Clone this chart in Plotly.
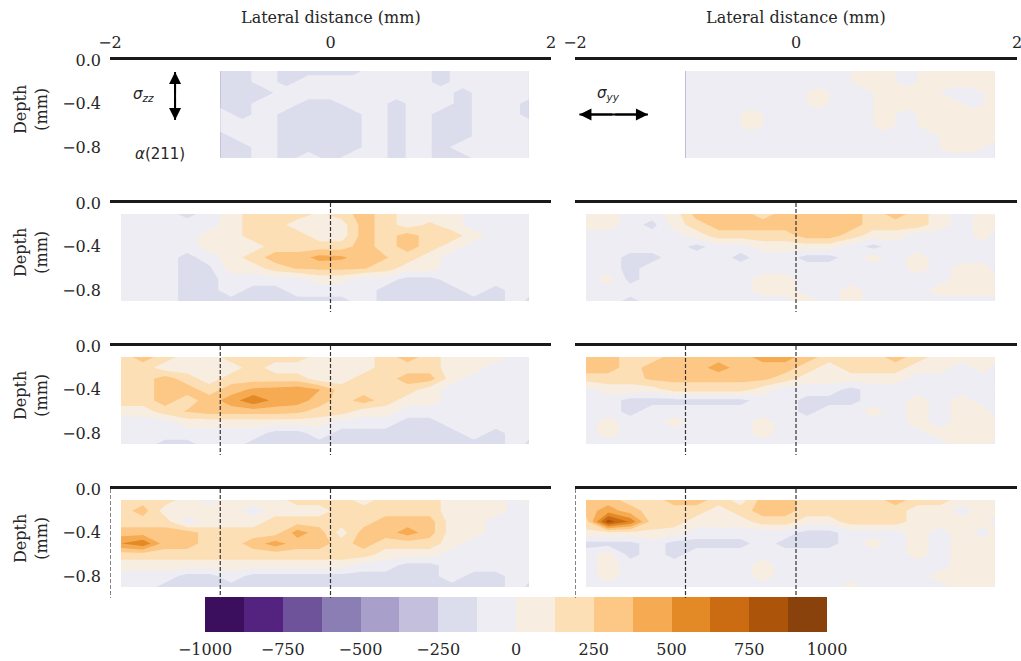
import plotly.graph_objects as go

# ---------------- data ----------------
depth = [-0.1, -0.2, -0.3, -0.4, -0.5, -0.6, -0.7, -0.8, -0.9]
x_top = [-1.0, -0.8, -0.6, -0.4, -0.2, 0.0, 0.2, 0.4, 0.6, 0.8, 1.0, 1.2, 1.4, 1.6, 1.8]
x_full = [-1.9, -1.7, -1.5, -1.3, -1.1, -0.9, -0.7, -0.5, -0.3, -0.1,
          0.1, 0.3, 0.5, 0.7, 0.9, 1.1, 1.3, 1.5, 1.7, 1.8]

szz_1 = [
    [-170, -170, -60, -170, -170, -170, -170, -60, -60, -60, -170, -60, -60, -60, -60],
    [-170, -170, -60, -170, -60, -60, -60, -60, -60, -60, -170, -60, -60, -60, -60],
    [-170, -170, -170, -60, -60, -60, -60, -60, -60, -60, -60, -170, -60, -60, -60],
    [-170, -170, -60, -60, -170, -170, -60, -60, -170, -60, -60, -170, -60, -60, -170],
    [-60, -170, -60, -170, -170, -170, -170, -60, -170, -60, -170, -170, -60, -60, -170],
    [-60, -60, -60, -170, -170, -170, -170, -60, -170, -60, -170, -170, -60, -60, -60],
    [-170, -60, -60, -170, -170, -170, -170, -60, -170, -60, -170, -170, -60, -60, -60],
    [-170, -170, -60, -170, -170, -170, -170, -60, -170, -60, -170, -60, -60, -60, -60],
    [-170, -170, -60, -170, -60, -170, -60, -60, -170, -60, -170, -170, -60, -60, -60],
]
syy_1 = [
    [-60, -60, -60, -60, -60, -60, -60, -60, 60, 60, -60, 60, 60, 60, 60],
    [-60, -60, -60, -60, -60, -60, -60, -60, 60, 60, -60, 60, 60, 60, 60],
    [-60, -60, -60, -60, -60, -60, 60, -60, -60, 60, 60, 60, -60, -60, 60],
    [-60, -60, -60, -60, -60, -60, 60, -60, -60, 60, 60, 60, 60, -60, 60],
    [-60, -60, -60, 60, -60, -60, -60, -60, -60, 60, -60, 60, 60, 60, 60],
    [-60, -60, -60, 60, -60, -60, -60, -60, -60, 60, -60, 60, 60, 60, 60],
    [-60, -60, -60, -60, -60, -60, -60, -60, -60, -60, -60, -60, 60, 60, 60],
    [-60, -60, -60, -60, -60, -60, -60, -60, -60, -60, -60, -60, 60, 60, -60],
    [-60, -60, -60, -60, -60, -60, -60, -60, -60, -60, -60, -60, -60, -60, -60],
]
szz_2 = [
    [-60, -60, -60, -170, -60, 60, 190, 190, 190, 100, 190, 310, 190, 60, 60, 60, -60, -60, -60, -60],
    [-60, -60, -60, -60, -60, 60, 190, 190, 60, 60, 60, 310, 190, 60, 150, 60, -60, -60, -60, -60],
    [-60, -60, -60, -60, 60, 60, 190, 190, 190, 60, 60, 310, 190, 310, 190, 190, 60, -60, -60, -60],
    [-60, -60, -60, -60, 60, 60, 60, 190, 190, 190, 190, 310, 190, 310, 190, 60, -60, -60, -60, -60],
    [-60, -60, -60, -170, -60, 60, 190, 310, 310, 420, 400, 310, 260, 190, 60, -60, -60, -60, -60, -60],
    [-60, -60, -60, -170, -150, 60, 60, 190, 260, 280, 280, 260, 190, 60, 60, -60, -60, -60, -60, -60],
    [-60, -60, -60, -170, -170, -60, -60, -60, -60, 40, 40, -60, -60, -170, -170, -60, -60, -60, -60, -60],
    [-60, -60, -60, -170, -170, -60, -170, -170, -60, -60, -60, -60, -170, -170, -170, -170, -60, -170, -60, -60],
    [-60, -60, -60, -170, -170, -170, -170, -170, -170, -170, -170, -60, -170, -170, -170, -170, -170, -170, -60, -170],
]
syy_2 = [
    [60, 60, -60, -60, 60, 310, 310, 310, 190, 310, 310, 310, 310, 190, 310, 190, 60, -60, 60, 60],
    [60, 60, -60, -170, 60, 190, 310, 310, 310, 310, 310, 310, 310, 190, 190, 190, 60, -60, 60, 60],
    [-60, -60, -60, -60, -60, 60, 190, 190, 190, 190, 310, 310, 190, 60, 60, -60, -60, -60, 60, -60],
    [-60, -60, -60, -60, -60, -170, -60, -60, 60, 60, 60, 60, -60, -170, -60, -60, -60, -60, -60, -60],
    [-60, -60, -170, -170, -60, -60, -60, -170, -60, -60, -170, -170, -60, 60, -60, 60, -60, -60, -60, -60],
    [-60, -60, -170, -60, -60, -60, -60, -60, -60, -60, -60, -60, -60, -60, -60, 60, -60, 60, 60, -60],
    [-60, 60, -170, -60, -60, -60, -60, -60, 60, 60, -60, -60, -60, -60, -60, -60, -60, 60, 60, 60],
    [-60, -60, -60, -60, -60, -60, -60, -60, 60, 60, -60, -60, 60, -60, -60, -60, 60, 60, 60, 60],
    [-60, -60, -170, -60, -60, -60, -60, -60, -60, -60, 60, -60, 60, -60, -60, -60, -60, -60, -60, -60],
]
szz_3 = [
    [190, 310, 190, 60, 60, 190, 190, 190, 190, 60, 60, 60, 190, 310, 190, 60, 60, 60, -60, -60],
    [190, 190, 60, 60, 60, 60, 190, 60, 60, 60, 60, 60, 190, 190, 190, 60, 60, -60, -60, -60],
    [190, 190, 310, 190, 60, 190, 190, 190, 190, 60, 60, 190, 190, 310, 310, 60, -60, -60, -60, -60],
    [190, 190, 310, 310, 190, 310, 400, 420, 450, 380, 190, 190, 190, 190, 60, -60, -60, -60, -60, -60],
    [190, 190, 310, 190, 310, 440, 600, 460, 440, 310, 190, 310, 190, 60, 60, -60, -60, -60, -60, -60],
    [60, 60, 190, 260, 310, 310, 310, 310, 280, 200, 190, 60, 60, -60, -60, -60, -60, -60, -60, -60],
    [-60, -60, -60, 60, 60, 60, 60, 60, 60, 60, -60, -60, -60, -170, -170, -60, -60, -60, -60, -60],
    [-60, -60, -60, -60, -60, -60, -60, -170, -170, -60, -170, -170, -170, -170, -170, -170, -60, -170, -60, -60],
    [-60, -60, -170, -170, -60, -60, -170, -170, -170, -170, -170, -170, -170, -170, -170, -170, -170, -170, -60, -170],
]
syy_3 = [
    [310, 310, 190, 190, 310, 310, 310, 310, 440, 440, 310, 190, 190, 190, 310, 190, 60, 60, 60, 60],
    [310, 310, 190, 310, 310, 310, 440, 310, 310, 310, 190, 60, 190, 190, 190, 60, 60, -60, 60, -60],
    [190, 190, 190, 280, 280, 280, 280, 280, 280, 190, 60, 60, 60, 60, 60, -60, -60, -60, -60, -60],
    [-60, 60, 60, 60, 190, 190, 190, 190, 60, -60, -60, -60, -170, -60, -60, -60, -60, -60, -60, -60],
    [-60, -60, -170, -170, -170, -170, -170, -170, -60, -60, -170, -170, -170, -60, -60, 60, -60, 60, -60, -60],
    [-60, -60, -170, -60, -60, -60, -60, -60, -60, -60, -170, -60, -60, 60, -60, 60, -60, 60, 60, -60],
    [-60, 60, -60, -60, 60, -60, -60, -60, 60, -60, -60, -60, -60, -60, -60, 60, -60, 60, 60, 60],
    [-60, 60, -60, -60, -60, -60, -60, -60, 60, -60, -60, -60, -60, -60, -60, -60, 60, 60, 60, 60],
    [-60, -60, -60, -60, -60, -60, -60, -60, -60, -60, -60, -60, -60, -60, -60, -60, -60, 60, 60, -60],
]
szz_4 = [
    [190, 190, 190, 60, -60, 60, 60, 60, 190, 190, 190, 60, 190, 190, 190, 60, 60, 60, -60, 60],
    [190, 310, 60, 60, 60, 60, -60, 60, 60, 60, 190, 190, 190, 190, 190, 60, 60, 60, -60, -60],
    [190, 190, 190, -60, 60, 60, 60, 190, 190, 190, 190, 190, 310, 310, 310, 60, 60, -60, -60, -60],
    [310, 310, 310, 310, 190, 190, 190, 190, 440, 310, 60, 310, 310, 440, 310, 60, 60, -60, -60, -60],
    [500, 600, 310, 310, 190, 190, 310, 440, 310, 310, 190, 310, 190, 190, 190, 60, -60, -60, -60, -60],
    [190, 190, 190, 190, 190, 190, 190, 190, 190, 190, 190, 190, 60, 60, 60, -60, -60, -60, -60, -60],
    [60, 60, 60, 60, 60, 60, 60, 60, 60, 60, 60, -60, -60, -170, -170, -60, -60, -60, -60, -60],
    [-60, -60, -60, -170, -170, -60, -170, -170, -170, -170, -170, -170, -170, -170, -170, -60, -170, -170, -60, -60],
    [-60, -60, -170, -170, -170, -170, -170, -170, -170, -170, -170, -170, -170, -170, -170, -170, -170, -170, -60, -170],
]
syy_4 = [
    [310, 310, 190, 190, 310, 310, 190, 60, 310, 310, 190, 190, 190, 190, 310, 190, 190, 60, 60, 60],
    [310, 440, 310, 190, 190, 190, 60, 190, 310, 310, 190, 190, 190, 190, 190, 60, 60, -60, 60, 60],
    [190, 820, 600, 190, 190, 60, 60, 60, 190, 190, 60, 60, 190, 190, 190, 60, 60, 60, 60, -60],
    [100, 100, 100, 100, 60, -60, -60, -60, -60, -60, -170, -170, -60, -60, -60, 60, -60, 60, -60, 60],
    [-170, -170, -170, -60, -170, -170, -170, -170, -60, -170, -170, -170, -60, 60, -60, 60, -60, 60, 60, 60],
    [-60, 60, -170, -60, -170, -60, -60, -60, -60, -60, -60, -60, -60, -60, -60, 60, -60, 60, 60, 60],
    [-60, 60, -60, -60, -60, -60, -60, -60, 60, -60, -60, -60, -60, -60, -60, -60, -60, 60, 60, 60],
    [-60, 60, -60, -60, -60, -60, -60, -60, 60, -60, -60, -60, -60, -60, -60, -60, 60, 60, 60, 60],
    [-60, -60, -60, -60, -60, -60, -60, -60, -60, -60, -60, -60, 60, -60, -60, -60, -60, 60, 60, 60],
]

cbar_levels = [-1000, -875, -750, -625, -500, -375, -250, -125, 0,
               125, 250, 375, 500, 625, 750, 875, 1000]
band_colors = ['#3b0f5e', '#53237f', '#6e539b', '#8b7eb4', '#a89fca', '#c4bfdd',
               '#dbdcec', '#eeedf3', '#f8ede1', '#fddfb6', '#fdc886', '#f6ab53',
               '#e38a26', '#cb6b12', '#ab540a', '#8a420c']
cbar_ticks = [-1000, -750, -500, -250, 0, 250, 500, 750, 1000]
y_ticks = [0.0, -0.4, -0.8]
y_ticktext = ['0.0', '\u22120.4', '\u22120.8']
x_ticks = [-2, 0, 2]
dashed_x = [[], [0.0], [-1.0, 0.0], [-2.0, -1.0, 0.0]]

# ---------------- figure ----------------
W, H = 1021, 661
SERIF = 'DejaVu Serif, serif'
SANS = 'DejaVu Sans, sans-serif'
TXT = '#262626'

# plotly evaluates each filled band at (level + size/2) -> scale position k/17
cs = [[0.0, band_colors[7]]]
for j, c in enumerate(band_colors):
    cs.append([(j + 1) / 17.0, c])
cs.append([1.0, band_colors[-1]])

panels = [
    (x_top, szz_1), (x_top, syy_1),
    (x_full, szz_2), (x_full, syy_2),
    (x_full, szz_3), (x_full, syy_3),
    (x_full, szz_4), (x_full, syy_4),
]

col_dom = [(110 / W, 551 / W), (575 / W, 1017 / W)]
row_top = [60, 203, 346, 489]
row_h = 109

fig = go.Figure()
layout = dict(width=W, height=H, margin=dict(l=0, r=0, t=0, b=0, autoexpand=False),
              paper_bgcolor='white', plot_bgcolor='white', showlegend=False)
shapes = []
annotations = []

for i, (xs, z) in enumerate(panels):
    r, c = divmod(i, 2)
    n = i + 1
    sfx = '' if n == 1 else str(n)
    fig.add_trace(go.Contour(
        x=xs, y=depth, z=z,
        xaxis='x' + sfx, yaxis='y' + sfx,
        colorscale=cs,
        contours=dict(start=-1000, end=1000, size=125, coloring='fill', showlines=False),
        line=dict(width=0, smoothing=0),
        hoverinfo='skip',
        showscale=False,
    ))
    top = row_top[r]
    ydom = (1 - (top + row_h) / H, 1 - top / H)
    layout['xaxis' + sfx] = dict(
        domain=list(col_dom[c]), range=[-2, 2], anchor='y' + sfx, side='top',
        showline=True, linewidth=2.5, linecolor='#1a1a1a', showgrid=False, zeroline=False,
        ticks='', tickvals=x_ticks, showticklabels=(r == 0), ticklabelstandoff=3,
        ticklabeloverflow='allow', automargin=False, fixedrange=True,
        tickfont=dict(family=SERIF, size=16, color=TXT),
    )
    layout['yaxis' + sfx] = dict(
        domain=list(ydom), range=[-1.0, 0.0], anchor='x' + sfx,
        showline=False, showgrid=False, zeroline=False, ticks='',
        tickvals=y_ticks, ticktext=y_ticktext, showticklabels=(c == 0), ticklabelstandoff=8,
        automargin=False, fixedrange=True,
        tickfont=dict(family=SERIF, size=16, color=TXT),
    )
    for xv in dashed_x[r]:
        shapes.append(dict(type='line', xref='x' + sfx, yref='y' + sfx,
                           x0=xv, x1=xv, y0=0, y1=-1.0,
                           line=dict(color='#333333', width=1.2, dash='4px,2px')))
    if c == 0:
        annotations.append(dict(text='Depth<br>(mm)', xref='paper', yref='paper',
                                x=31 / W, y=1 - (top + 50) / H, xanchor='center',
                                yanchor='middle', showarrow=False, textangle=-90,
                                font=dict(family=SERIF, size=16, color=TXT)))

# manual colorbar (heatmap in its own axes)
centers = [(a + b) / 2 for a, b in zip(cbar_levels[:-1], cbar_levels[1:])]
n_b = len(band_colors)
cb_scale = [[k / (n_b - 1), col] for k, col in enumerate(band_colors)]
fig.add_trace(go.Heatmap(
    x=centers, y=[0], z=[list(range(n_b))], xaxis='x9', yaxis='y9',
    colorscale=cb_scale, zmin=0, zmax=n_b - 1, showscale=False, hoverinfo='skip',
))
layout['xaxis9'] = dict(domain=[205 / W, 827 / W], range=[-1000, 1000], anchor='y9',
                        side='bottom', showline=False, showgrid=False, zeroline=False,
                        ticks='', tickvals=cbar_ticks, ticklabelstandoff=6,
                        ticklabeloverflow='allow', automargin=False, fixedrange=True,
                        tickfont=dict(family=SERIF, size=16, color=TXT))
layout['yaxis9'] = dict(domain=[1 - 632 / H, 1 - 597 / H], range=[-0.5, 0.5], anchor='x9',
                        showline=False, showgrid=False, zeroline=False,
                        showticklabels=False, automargin=False, fixedrange=True)

for cx in (331, 796):
    annotations.append(dict(text='Lateral distance (mm)', xref='paper', yref='paper',
                            x=cx / W, y=1 - 17 / H, xanchor='center', yanchor='middle',
                            showarrow=False, font=dict(family=SERIF, size=16, color=TXT)))

annotations += [
    dict(text='<i>σ<sub>zz</sub></i>', xref='x', yref='y', x=-1.70, y=-0.32,
         xanchor='center', yanchor='middle',
         showarrow=False, font=dict(family=SANS, size=15, color=TXT)),
    dict(text='<i>α</i>(211)', xref='x', yref='y', x=-1.55, y=-0.86,
         xanchor='center', yanchor='middle',
         showarrow=False, font=dict(family=SANS, size=15, color=TXT)),
    dict(text='<i>σ<sub>yy</sub></i>', xref='x2', yref='y2', x=-1.70, y=-0.31,
         xanchor='center', yanchor='middle',
         showarrow=False, font=dict(family=SANS, size=15, color=TXT)),
]
# double arrows: shaft line + two heads
arrows = [('x', 'y', -1.41, -0.11, -1.41, -0.55), ('x2', 'y2', -1.96, -0.50, -1.34, -0.50)]
for (xr, yr, x0, y0, x1, y1) in arrows:
    shapes.append(dict(type='line', xref=xr, yref=yr, x0=x0, y0=y0, x1=x1, y1=y1,
                       line=dict(color='black', width=2)))
    mx, my = (x0 + x1) / 2, (y0 + y1) / 2
    for (hx, hy) in [(x0, y0), (x1, y1)]:
        annotations.append(dict(text='', xref=xr, yref=yr, axref=xr, ayref=yr,
                                x=hx, y=hy, ax=mx, ay=my, showarrow=True,
                                arrowhead=2, arrowsize=1.2, arrowwidth=2, arrowcolor='black',
                                standoff=0, startstandoff=0))

layout['shapes'] = shapes
layout['annotations'] = annotations
fig.update_layout(**layout)
fig.write_html('out.html')
